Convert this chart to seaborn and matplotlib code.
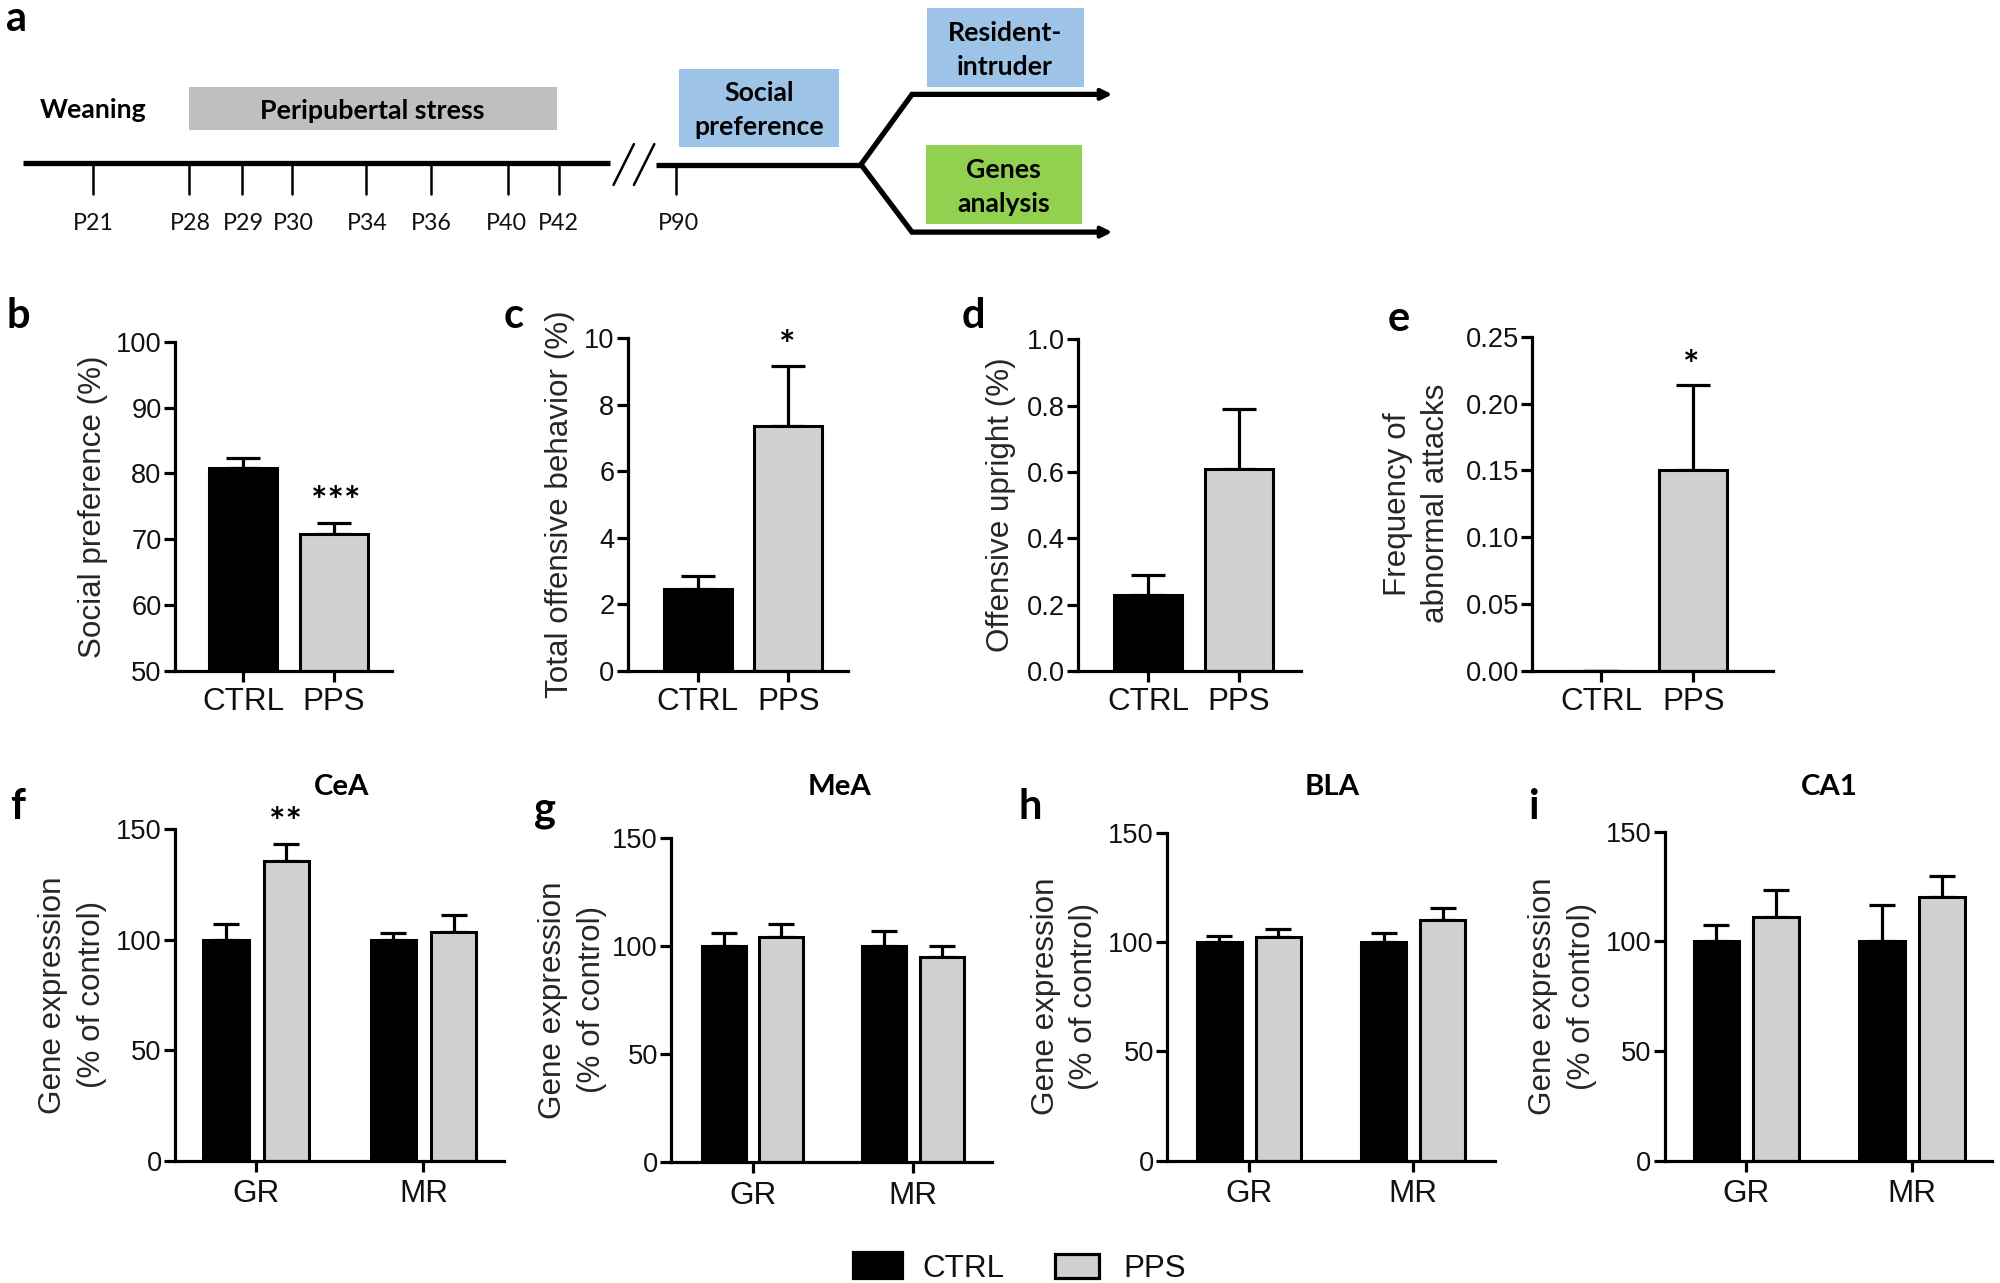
import matplotlib
matplotlib.use("Agg")
import matplotlib.pyplot as plt
from matplotlib.container import BarContainer
from matplotlib.patches import Rectangle
import pandas as pd
import seaborn as sns

sns.set_theme(style="ticks")
plt.rcParams['font.family'] = ['Liberation Sans', 'DejaVu Sans']

# ---------- data ----------
two_cats = ["CTRL", "PPS"]
social_pref = [80.8, 70.8]
social_pref_top = [82.3, 72.5]
offensive = [2.45, 7.35]
offensive_top = [2.85, 9.15]
upright = [0.23, 0.61]
upright_top = [0.29, 0.79]
attacks = [0.0, 0.15]
attacks_top = [0.0, 0.214]

genes = ["GR", "MR"]
cea_ctrl, cea_pps = [100, 100], [135.5, 103.5]
cea_ctrl_top, cea_pps_top = [107, 103], [143, 111]
mea_ctrl, mea_pps = [100, 100], [104, 95]
mea_ctrl_top, mea_pps_top = [106, 107], [110, 100]
bla_ctrl, bla_pps = [100, 100], [102.5, 110]
bla_ctrl_top, bla_pps_top = [103, 104], [106, 115.5]
ca1_ctrl, ca1_pps = [100, 100], [111, 120]
ca1_ctrl_top, ca1_pps_top = [107.5, 116.5], [123.5, 129.5]

day_labels = ["P21", "P28", "P29", "P30", "P34", "P36", "P40", "P42"]
day_ticks = [73, 148, 190, 229, 287, 338, 398, 438]
day_label_x = [73, 149, 191, 230, 288, 338, 397, 438]

# ---------- layout (coordinates on a 1568 x 1006 sketch) ----------
W, H = 1568, 1006
BLACK, GRAY = "#000000", "#D0D0D0"
LW = 1.15
BAR_LW = 1.1
FS = 11.3
TICK_FS = 9.8
fig = plt.figure(figsize=(10, 1283 / 200), dpi=200)
fig.patch.set_facecolor("white")


def make_ax(x0, x1, ytop, y0):
    return fig.add_axes([x0 / W, 1 - y0 / H, (x1 - x0) / W, (y0 - ytop) / H])


def style(ax, ylim, yticks, fmt, ylabel, label_x, x0, x1, xpad):
    ax.set_ylim(*ylim)
    ax.set_yticks(yticks)
    ax.set_yticklabels([fmt.format(t) for t in yticks], fontsize=TICK_FS)
    ax.set_xlabel("")
    ax.set_ylabel(ylabel, fontsize=FS, va="center", ha="center", multialignment="center",
                  labelpad=0, linespacing=1.38)
    ax.yaxis.set_label_coords((label_x - x0) / (x1 - x0), 0.5)
    ax.tick_params(axis="both", width=LW, length=3.8, color="black", labelcolor="#111111", pad=0.9)
    ax.tick_params(axis="x", labelsize=FS, pad=xpad)
    sns.despine(ax=ax)
    for s in ("left", "bottom"):
        ax.spines[s].set_linewidth(LW)
        ax.spines[s].set_color("black")


def add_errors(ax, means, tops, capsize):
    bars = [b for c in ax.containers if isinstance(c, BarContainer) for b in c]
    for bar, m, t in zip(bars, means, tops):
        xc = bar.get_x() + bar.get_width() / 2
        ax.errorbar([xc], [m], yerr=[[0], [t - m]], color="black",
                    elinewidth=LW, capsize=capsize, capthick=LW, zorder=0.5)


def two_bar_panel(box, first, step, width_px, means, tops, ylim, yticks, fmt, ylabel, label_x):
    x0, x1, ytop, y0 = box
    ax = make_ax(x0, x1, ytop, y0)
    df = pd.DataFrame({"group": two_cats, "value": means})
    sns.barplot(data=df, x="group", y="value", hue="group", palette=[BLACK, GRAY], width=width_px / step,
                edgecolor="black", linewidth=BAR_LW, errorbar=None, legend=False, ax=ax)
    add_errors(ax, means, tops, 6.2)
    ax.set_xlim((x0 - first) / step, (x1 - first) / step)
    style(ax, ylim, yticks, fmt, ylabel, label_x, x0, x1, 2.2)
    return ax


def gene_panel(box, first, step, ctrl, pps, ctrl_top, pps_top, label_x):
    x0, x1, ytop, y0 = box
    ax = make_ax(x0, x1, ytop, y0)
    df = pd.DataFrame({"gene": genes * 2,
                       "group": ["CTRL"] * 2 + ["PPS"] * 2,
                       "value": list(ctrl) + list(pps)})
    sns.barplot(data=df, x="gene", y="value", hue="group", palette=[BLACK, GRAY], width=0.72, gap=0.24,
                edgecolor="black", linewidth=BAR_LW, errorbar=None, legend=False, ax=ax)
    add_errors(ax, list(ctrl) + list(pps), list(ctrl_top) + list(pps_top), 4.6)
    ax.set_xlim((x0 - first) / step, (x1 - first) / step)
    style(ax, (0, 150), [0, 50, 100, 150], "{:d}", "Gene expression\n(% of control)", label_x, x0, x1, 3)
    return ax


two_bar_panel((137, 307, 268, 526), 190.5, 71.5, 53.5, social_pref, social_pref_top, (50, 100),
              [50, 60, 70, 80, 90, 100], "{:d}", "Social preference (%)", 73)
two_bar_panel((492, 665, 265, 526), 547, 71, 53.5, offensive, offensive_top, (0, 10),
              [0, 2, 4, 6, 8, 10], "{:d}", "Total offensive behavior (%)", 439)
two_bar_panel((845, 1020, 266, 526), 900, 71.5, 53.5, upright, upright_top, (0, 1.0),
              [0.0, 0.2, 0.4, 0.6, 0.8, 1.0], "{:.1f}", "Offensive upright (%)", 785)
two_bar_panel((1201, 1390, 264, 526), 1255.5, 72, 53.5, attacks, attacks_top, (0, 0.25),
              [0.0, 0.05, 0.10, 0.15, 0.20, 0.25], "{:.2f}", "Frequency of\nabnormal attacks", 1111)

gene_panel((137, 395, 650, 910), 201, 131, cea_ctrl, cea_pps, cea_ctrl_top, cea_pps_top, 57)
gene_panel((526, 778, 657, 911), 590, 126, mea_ctrl, mea_pps, mea_ctrl_top, mea_pps_top, 449)
gene_panel((915, 1172, 653, 910), 979, 129, bla_ctrl, bla_pps, bla_ctrl_top, bla_pps_top, 835)
gene_panel((1305, 1562, 652, 910), 1369, 130, ca1_ctrl, ca1_pps, ca1_ctrl_top, ca1_pps_top, 1225)

# ---------- overlay: schematic, letters, stars, legend ----------
ov = fig.add_axes([0, 0, 1, 1], zorder=5)
ov.set_xlim(0, W)
ov.set_ylim(H, 0)
ov.axis("off")
ov.patch.set_alpha(0)
LAT = ["Lato", "DejaVu Sans"]

for (x, y, w, h, c) in [(148, 68, 289, 34, "#BFBFBF"), (532, 54, 126, 61, "#9DC3E6"),
                        (727, 6, 123, 62, "#9DC3E6"), (726, 114, 122, 62, "#92D050")]:
    ov.add_patch(Rectangle((x, y), w, h, facecolor=c, edgecolor="none"))

ov.plot([18, 478], [128, 128], color="black", lw=1.9, solid_capstyle="butt")
ov.plot([514, 675], [129, 129], color="black", lw=1.9, solid_capstyle="butt")
for xt in day_ticks:
    ov.plot([xt, xt], [128, 152], color="black", lw=0.9)
ov.plot([530, 530], [129, 152], color="black", lw=0.9)
for xt, lab in zip(day_label_x, day_labels):
    ov.text(xt, 175, lab, ha="center", va="center", fontsize=8.4, family=LAT, color="#111111")
ov.text(532, 175, "P90", ha="center", va="center", fontsize=8.4, family=LAT, color="#111111")
ov.plot([481, 497], [145, 113], color="black", lw=0.9)
ov.plot([497, 513], [145, 113], color="black", lw=0.9)
ov.plot([675, 715, 862], [129, 74, 74], color="black", lw=1.9, solid_joinstyle="miter")
ov.plot([675, 715, 862], [129, 182, 182], color="black", lw=1.9, solid_joinstyle="miter")
for yy in (74, 182):
    ov.annotate("", xy=(872, yy), xytext=(858, yy),
                arrowprops=dict(arrowstyle="-|>", color="black", lw=1.5, mutation_scale=8,
                                shrinkA=0, shrinkB=0))

bold = dict(family=LAT, fontweight="bold", color="black", ha="center", va="center")
ov.text(73, 86, "Weaning", fontsize=9.6, **bold)
ov.text(292, 87, "Peripubertal stress", fontsize=9.7, **bold)
ov.text(595, 86.5, "Social\npreference", fontsize=9.6, linespacing=1.5, **bold)
ov.text(788, 39.5, "Resident-\nintruder", fontsize=9.6, linespacing=1.5, **bold)
ov.text(787, 147, "Genes\nanalysis", fontsize=9.6, linespacing=1.5, **bold)

for (x, y, s) in [(13, 15, "a"), (14, 248, "b"), (403, 248, "c"), (763, 248, "d"), (1097, 250, "e"),
                  (14, 633, "f"), (427, 635, "g"), (808, 633, "h"), (1203, 633, "i")]:
    ov.text(x, y, s, fontsize=15, **bold)
for (x, s) in [(268, "CeA"), (658, "MeA"), (1044, "BLA"), (1434, "CA1")]:
    ov.text(x, 617, s, fontsize=10.6, **bold)

for (x, y, s) in [(263, 394, "***"), (617, 272, "*"), (1326, 287, "*"), (224, 646, "**")]:
    ov.text(x, y, s, fontsize=14, family=LAT, fontweight="bold", ha="center", va="center", color="black")

ov.add_patch(Rectangle((669, 982), 38, 20, facecolor=BLACK, edgecolor="black", lw=LW))
ov.add_patch(Rectangle((827, 983), 35, 19, facecolor=GRAY, edgecolor="black", lw=LW))
ov.text(755, 995, "CTRL", fontsize=FS, ha="center", va="center", color="#111111")
ov.text(905, 995, "PPS", fontsize=FS, ha="center", va="center", color="#111111")

fig.savefig("out.png", dpi=200, facecolor="white")
